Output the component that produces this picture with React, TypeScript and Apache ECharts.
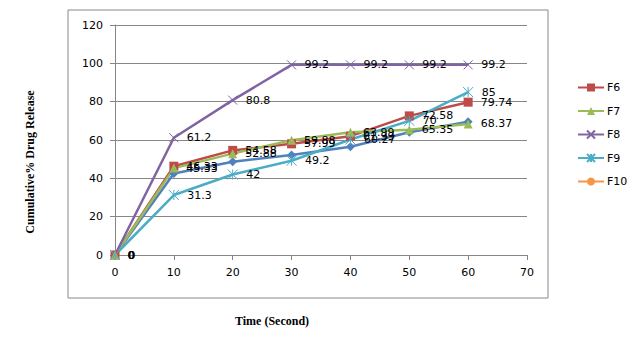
import React, { useEffect, useRef } from "react";
import * as echarts from "echarts";

const xValues = [0, 10, 20, 30, 40, 50, 60];
const seriesF5 = [0, 42.5, 48.7, 52.2, 56.5, 64, 69.5];
const seriesF6 = [0, 46.33, 54.58, 57.99, 61.99, 72.58, 79.74];
const seriesF7 = [0, 45.33, 52.88, 59.88, 63.99, 65.35, 68.37];
const seriesF8 = [0, 61.2, 80.8, 99.2, 99.2, 99.2, 99.2];
const seriesF9 = [0, 31.3, 42, 49.2, 60.27, 70, 85];
const seriesF10: number[] = [];

const X_SYM = "path://M0,0L10,10M10,0L0,10";
const AST_SYM = "path://M0,0L10,10M10,0L0,10M5,0L5,10";

export default function App() {
  const ref = useRef<HTMLDivElement>(null);
  useEffect(() => {
    const chart = echarts.init(ref.current!, null, { renderer: "svg" });
    const pts = (arr: number[]) => arr.map((v, i) => [xValues[i], v]);
    const label = {
      show: true,
      position: "right" as const,
      distance: 8,
      color: "#000",
      fontFamily: "DejaVu Sans",
      fontSize: 11,
    };
    const mk = (name: string, data: number[], color: string, symbol: string, size: number, showLabel: boolean, stroke = false) => ({
      name,
      type: "line",
      data: pts(data),
      symbol,
      symbolSize: size,
      lineStyle: { color, width: 2.5 },
      itemStyle: stroke ? { color, borderColor: color, borderWidth: 1 } : { color },
      label: showLabel ? label : { show: false },
      z: 2,
    });
    chart.setOption({
      animation: false,
      grid: { left: 115, right: 102, top: 25, bottom: 93 },
      legend: {
        orient: "vertical",
        left: 572,
        top: 77,
        itemWidth: 26,
        itemHeight: 10,
        itemGap: 12.5,
        data: ["F6", "F7", "F8", "F9", "F10"],
        textStyle: { fontFamily: "DejaVu Sans", fontSize: 11, color: "#000", padding: [0, 0, 0, -2] },
      },
      xAxis: {
        type: "value",
        min: 0,
        max: 70,
        interval: 10,
        axisLine: { lineStyle: { color: "#868686" } },
        axisTick: { show: true, length: 5, lineStyle: { color: "#868686" } },
        axisLabel: { color: "#000", fontFamily: "DejaVu Sans", fontSize: 11, margin: 12 },
        splitLine: { show: false },
      },
      yAxis: {
        type: "value",
        min: 0,
        max: 120,
        interval: 20,
        axisLine: { show: true, lineStyle: { color: "#868686" } },
        axisTick: { show: true, length: 5, lineStyle: { color: "#868686" } },
        axisLabel: { color: "#000", fontFamily: "DejaVu Sans", fontSize: 11, margin: 12 },
        splitLine: { show: true, lineStyle: { color: "#868686" } },
      },
      graphic: [
        {
          type: "rect",
          shape: { x: 68, y: 10, width: 480, height: 288 },
          style: { fill: "none", stroke: "#888", lineWidth: 1 },
          silent: true,
        },
        {
          type: "text",
          x: 272,
          y: 321,
          style: {
            text: "Time (Second)",
            fontFamily: "Liberation Serif",
            fontWeight: "bold",
            fontSize: 12,
            fill: "#000",
            align: "center",
            verticalAlign: "middle",
          },
        },
        {
          type: "text",
          x: 30,
          y: 162,
          rotation: Math.PI / 2,
          style: {
            text: "Cumulative% Drug Release",
            fontFamily: "Liberation Serif",
            fontWeight: "bold",
            fontSize: 12,
            fill: "#000",
            align: "center",
            verticalAlign: "middle",
          },
        },
      ],
      series: [
        mk("F5", seriesF5, "#4F81BD", "diamond", 9, false),
        mk("F6", seriesF6, "#BE4B48", "rect", 9, true),
        mk("F7", seriesF7, "#9BBB59", "triangle", 9, true),
        mk("F8", seriesF8, "#8064A2", X_SYM, 9, true, true),
        mk("F9", seriesF9, "#4BACC6", AST_SYM, 10, true, true),
        mk("F10", seriesF10, "#F79646", "circle", 9, true),
      ],
    });
    return () => chart.dispose();
  }, []);
  return <div ref={ref} style={{ position: "fixed", left: 0, top: 0, width: 629, height: 348, background: "#fff" }} />;
}
